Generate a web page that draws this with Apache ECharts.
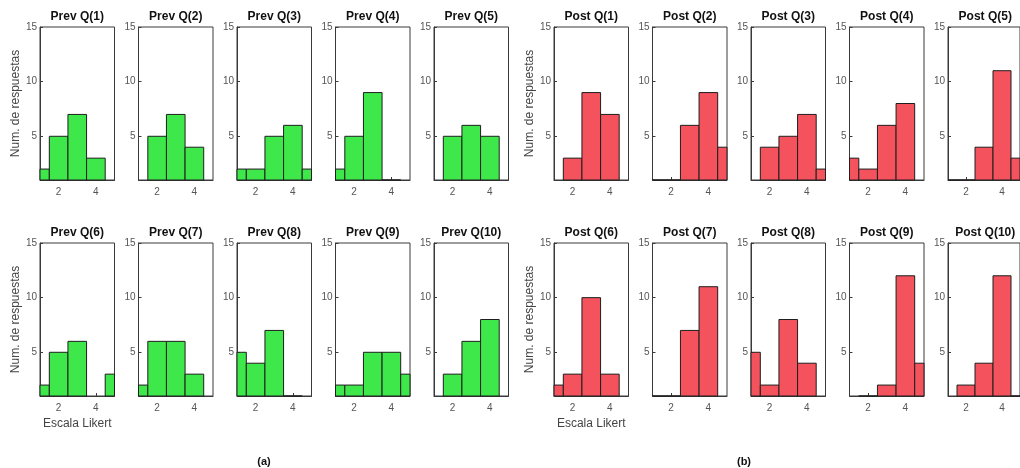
<!DOCTYPE html>
<html>
<head>
<meta charset="utf-8">
<script src="https://cdn.jsdelivr.net/npm/echarts@6/dist/echarts.min.js"></script>
<style>
html,body{margin:0;padding:0;background:#fff;}
#chart{width:1020px;height:468px;}
</style>
</head>
<body>
<div id="chart"></div>
<script>
// Likert scale bins
const likert = [1, 2, 3, 4, 5];
const xTicks = [2, 4];
const yTicks = [5, 10, 15];

// Prev questionnaire counts per Likert bin
const prevQ1 = [2, 5, 7, 3, 0];
const prevQ2 = [0, 5, 7, 4, 0];
const prevQ3 = [2, 2, 5, 6, 2];
const prevQ4 = [2, 5, 9, 1, 0];
const prevQ5 = [0, 5, 6, 5, 0];
const prevQ6 = [2, 5, 6, 0, 3];
const prevQ7 = [2, 6, 6, 3, 0];
const prevQ8 = [5, 4, 7, 1, 0];
const prevQ9 = [2, 2, 5, 5, 3];
const prevQ10 = [0, 3, 6, 8, 0];

// Post questionnaire counts per Likert bin
const postQ1 = [0, 3, 9, 7, 0];
const postQ2 = [1, 1, 6, 9, 4];
const postQ3 = [0, 4, 5, 7, 2];
const postQ4 = [3, 2, 6, 8, 0];
const postQ5 = [1, 1, 4, 11, 3];
const postQ6 = [2, 3, 10, 3, 0];
const postQ7 = [1, 1, 7, 11, 0];
const postQ8 = [5, 2, 8, 4, 0];
const postQ9 = [0, 1, 2, 12, 4];
const postQ10 = [0, 2, 4, 12, 1];

const prevTitles = ['Prev Q(1)','Prev Q(2)','Prev Q(3)','Prev Q(4)','Prev Q(5)','Prev Q(6)','Prev Q(7)','Prev Q(8)','Prev Q(9)','Prev Q(10)'];
const postTitles = ['Post Q(1)','Post Q(2)','Post Q(3)','Post Q(4)','Post Q(5)','Post Q(6)','Post Q(7)','Post Q(8)','Post Q(9)','Post Q(10)'];
const prevData = [prevQ1, prevQ2, prevQ3, prevQ4, prevQ5, prevQ6, prevQ7, prevQ8, prevQ9, prevQ10];
const postData = [postQ1, postQ2, postQ3, postQ4, postQ5, postQ6, postQ7, postQ8, postQ9, postQ10];

const X_MIN = 1, X_MAX = 5, Y_MIN = 1, Y_MAX = 15;
const FONT = '"Liberation Sans", Arial, Helvetica, sans-serif';

const groupLeft = [40, 554];
const colStep = 98.5;
const plotW = 74.5;
const rowTop = [27, 243];
const plotH = 153;

const grids = [], xAxes = [], yAxes = [], series = [], graphics = [];

function addPanel(idx, left, top, counts, title, color, firstCol, showXName) {
  grids.push({left: left, top: top, width: plotW, height: plotH, show: true,
    borderColor: '#3a3a3a', borderWidth: 1, backgroundColor: '#fff', containLabel: false});
  xAxes.push({type: 'value', gridIndex: idx, min: X_MIN, max: X_MAX,
    axisLine: {show: true, lineStyle: {color: '#3a3a3a', width: 1}},
    axisTick: {show: true, inside: true, length: 3, customValues: xTicks, lineStyle: {color: '#3a3a3a'}},
    axisLabel: {show: true, customValues: xTicks, margin: 7, fontSize: 10, color: '#555', fontFamily: FONT},
    splitLine: {show: false},
    name: showXName ? 'Escala Likert' : '', nameLocation: 'middle', nameGap: 22,
    nameTextStyle: {fontSize: 12, color: '#444', fontFamily: FONT}});
  yAxes.push({type: 'value', gridIndex: idx, min: Y_MIN, max: Y_MAX,
    axisLine: {show: true, lineStyle: {color: '#3a3a3a', width: 1}},
    axisTick: {show: true, inside: true, length: 3, customValues: yTicks, lineStyle: {color: '#3a3a3a'}},
    axisLabel: {show: true, customValues: yTicks, margin: 3, fontSize: 10, color: '#555', fontFamily: FONT},
    splitLine: {show: false},
    name: firstCol ? 'Num. de respuestas' : '', nameLocation: 'middle', nameGap: 15,
    nameTextStyle: {fontSize: 12, color: '#444', fontFamily: FONT}});
  series.push({type: 'custom', xAxisIndex: idx, yAxisIndex: idx, silent: true,
    data: likert.map((v, i) => [v, counts[i]]),
    renderItem: function (params, api) {
      const x = api.value(0), y = api.value(1);
      const p0 = api.coord([x - 0.5, y]);
      const p1 = api.coord([x + 0.5, Y_MIN]);
      const cs = params.coordSys;
      const rect = echarts.graphic.clipRectByRect(
        {x: p0[0], y: p0[1], width: p1[0] - p0[0], height: p1[1] - p0[1]},
        {x: cs.x, y: cs.y, width: cs.width, height: cs.height});
      if (!rect) return null;
      return {type: 'rect', shape: rect,
        style: {fill: color, stroke: '#1e1e1e', lineWidth: 1}};
    }});
  graphics.push({type: 'text', x: left + plotW / 2, y: top - 10,
    style: {text: title, font: 'bold 12px ' + FONT, fill: '#111',
      align: 'center', verticalAlign: 'middle', textAlign: 'center', textVerticalAlign: 'middle'}});
}

let idx = 0;
[[prevData, prevTitles, '#3fe84a'], [postData, postTitles, '#f4535d']].forEach(function (grp, g) {
  const data = grp[0], titles = grp[1], color = grp[2];
  for (let r = 0; r < 2; r++) {
    for (let c = 0; c < 5; c++) {
      const q = r * 5 + c;
      addPanel(idx++, groupLeft[g] + c * colStep, rowTop[r], data[q], titles[q], color,
        c === 0, c === 0 && r === 1);
    }
  }
});

graphics.push({type: 'text', x: 264, y: 462,
  style: {text: '(a)', font: 'bold 11px ' + FONT, fill: '#111', align: 'center', verticalAlign: 'middle', textAlign: 'center', textVerticalAlign: 'middle'}});
graphics.push({type: 'text', x: 744, y: 462,
  style: {text: '(b)', font: 'bold 11px ' + FONT, fill: '#111', align: 'center', verticalAlign: 'middle', textAlign: 'center', textVerticalAlign: 'middle'}});

const chart = echarts.init(document.getElementById('chart'), null, {renderer: 'canvas'});
chart.setOption({
  animation: false,
  backgroundColor: '#fff',
  grid: grids,
  xAxis: xAxes,
  yAxis: yAxes,
  series: series,
  graphic: graphics
});
</script>
</body>
</html>
